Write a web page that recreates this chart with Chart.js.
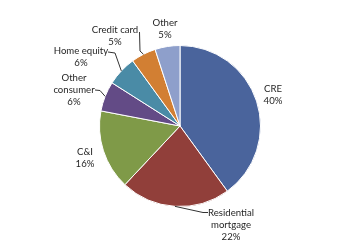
<!DOCTYPE html>
<html>
<head>
<meta charset="utf-8">
<script src="https://cdn.jsdelivr.net/npm/chart.js@4.4.1/dist/chart.umd.min.js"></script>
<style>
    html, body { margin: 0; padding: 0; background: #fff; }
    #wrap { width: 364px; height: 247px; }
</style>
</head>
<body>
<div id="wrap"><canvas id="pieChart" width="364" height="247"></canvas></div>
<script>
// chart data
const categories = ['CRE', 'Residential mortgage', 'C&I', 'Other consumer', 'Home equity', 'Credit card', 'Other'];
const shares = [40, 22, 16, 6, 6, 5, 5];
const labelLines = [['CRE'], ['Residential', 'mortgage'], ['C&I'], ['Other', 'consumer'], ['Home equity'], ['Credit card'], ['Other']];
const sliceColors = ['#4a649c', '#913f3a', '#7f9a48', '#634b86', '#4a8ba6', '#d27f33', '#8e9fcb'];

// where each label sits (center x, first baseline y) and its leader elbow, if any
const labelLayout = [
    { x: 273, y: 89 },
    { x: 231, y: 213, from: [208, 212.5], elbow: [203, 212.5] },
    { x: 85, y: 152 },
    { x: 74, y: 78, from: [95, 90], elbow: [100, 90.5] },
    { x: 81, y: 51, from: [108, 52], elbow: [115, 53] },
    { x: 115, y: 30, from: [139.5, 32], elbow: [140, 51] },
    { x: 165, y: 23 }
];

const lineHeight = 11.8;

const outsideLabels = {
    id: 'outsideLabels',
    afterDatasetsDraw(chart) {
        const ctx = chart.ctx;
        const arcs = chart.getDatasetMeta(0).data;
        ctx.save();
        ctx.font = '9.6px Lato, "Open Sans", sans-serif';
        ctx.fillStyle = '#262626';
        ctx.textAlign = 'center';
        ctx.textBaseline = 'middle';

        arcs.forEach((arc, i) => {
            const pos = labelLayout[i];
            const lines = labelLines[i].concat([shares[i] + '%']);
            lines.forEach((t, k) => {
                ctx.fillText(t, pos.x, pos.y + k * lineHeight);
            });

            if (pos.from) {
                const mid = (arc.startAngle + arc.endAngle) / 2;
                const ax = arc.x + Math.cos(mid) * arc.outerRadius;
                const ay = arc.y + Math.sin(mid) * arc.outerRadius;
                ctx.beginPath();
                ctx.strokeStyle = '#333';
                ctx.lineWidth = 1;
                ctx.moveTo(pos.from[0], pos.from[1]);
                ctx.lineTo(pos.elbow[0], pos.elbow[1]);
                ctx.lineTo(ax, ay);
                ctx.stroke();
            }
        });
        ctx.restore();
    }
};

new Chart(document.getElementById('pieChart'), {
    type: 'pie',
    data: {
        labels: categories,
        datasets: [{
            data: shares,
            backgroundColor: sliceColors,
            borderColor: '#ffffff',
            borderWidth: 1
        }]
    },
    options: {
        responsive: false,
        animation: false,
        layout: { padding: { top: 45, bottom: 40, left: 99, right: 103 } },
        plugins: {
            legend: { display: false },
            tooltip: { enabled: false }
        }
    },
    plugins: [outsideLabels]
});
</script>
</body>
</html>
